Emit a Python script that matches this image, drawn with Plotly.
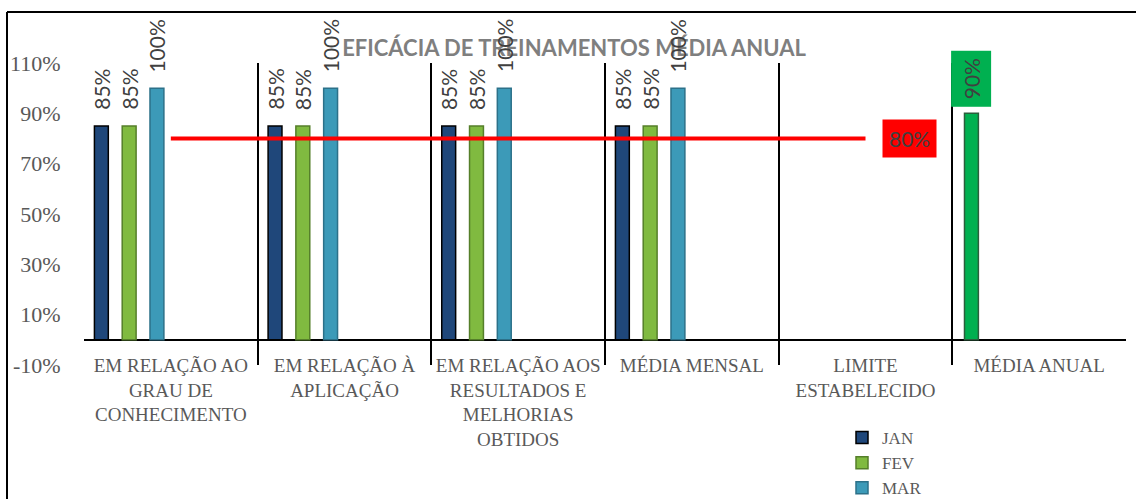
import plotly.graph_objects as go

# ---------------- data ----------------
categories = [
    "EM RELAÇÃO AO<br>GRAU DE<br>CONHECIMENTO",
    "EM RELAÇÃO À<br>APLICAÇÃO",
    "EM RELAÇÃO AOS<br>RESULTADOS E<br>MELHORIAS<br>OBTIDOS",
    "MÉDIA MENSAL",
    "LIMITE<br>ESTABELECIDO",
    "MÉDIA ANUAL",
]
series_names = ["JAN", "FEV", "MAR"]
jan = [85, 85, 85, 85]
fev = [85, 85, 85, 85]
mar = [100, 100, 100, 100]
limite = [80, 80, 80, 80, 80]
media_anual = [90]
media_anual_cat = [5]
y_tick_values = [-10, 10, 30, 50, 70, 90, 110]
y_tick_labels = ["-10%", "10%", "30%", "50%", "70%", "90%", "110%"]
title_text = "EFICÁCIA DE TREINAMENTOS MÉDIA ANUAL"

# ---------------- style ----------------
W, H = 1136, 499
ML, MR, MT, MB = 84, 10, 63, 60
plot_w = W - ML - MR
paper_h = H - MT - MB
plot_bottom_px = 365
label_axis_px = 352

bar_w = 0.08
slot_centers = [-0.40, -0.24, -0.08]
fills = ["#1F477A", "#80BA40", "#3C9AB8"]
lines = ["#000000", "#557F2A", "#2C7189"]
label_font = dict(family="Lato, Open Sans, sans-serif", size=21, color="#404040")
serif = "Liberation Serif, Cambria, serif"

fig = go.Figure()

values = [jan, fev, mar]
for name, vals, c, fc, lc in zip(series_names, values, slot_centers, fills, lines):
    xs = list(range(len(vals)))
    fig.add_trace(go.Bar(
        name=name, x=xs, y=vals, width=bar_w, offset=c - bar_w / 2,
        marker=dict(color=fc, line=dict(color=lc, width=1.5)),
        showlegend=True, hoverinfo="skip",
    ))
    for x, v in zip(xs, vals):
        fig.add_annotation(x=x + c, y=v, text=f"{v}%", textangle=-90,
                           showarrow=False, yanchor="bottom", xanchor="center",
                           yshift=14, font=label_font)

# annual average bar
fig.add_trace(go.Bar(
    name="MÉDIA ANUAL", x=media_anual_cat, y=media_anual, width=bar_w,
    offset=slot_centers[0] - bar_w / 2 + 0.01,
    marker=dict(color="#00B050", line=dict(color="#2A5E3C", width=1.5)),
    showlegend=False, hoverinfo="skip",
))
for x, v in zip(media_anual_cat, media_anual):
    fig.add_annotation(x=x + slot_centers[0] + 0.01, y=v, text=f"{v}%", textangle=-90,
                       showarrow=False, yanchor="bottom", xanchor="center",
                       yshift=6, bgcolor="#00B050", borderpad=7, font=label_font)

# limit line
lim_x = list(range(len(limite)))
fig.add_trace(go.Scatter(
    name="LIMITE", x=lim_x, y=limite, mode="lines",
    line=dict(color="#FF0000", width=4), showlegend=False, hoverinfo="skip",
))
fig.add_annotation(x=lim_x[-1], y=limite[-1], text=f"{limite[-1]}%", showarrow=False,
                   xanchor="left", yanchor="middle", xshift=16,
                   bgcolor="#FF0000", borderpad=6, font=label_font)

# outer frame (top and left edges only visible)
fx = (7 - ML) / plot_w
fy = (H - MB - 12) / paper_h
fig.add_shape(type="line", xref="paper", yref="paper", x0=fx, x1=1.2, y0=fy, y1=fy,
              line=dict(color="black", width=2))
fig.add_shape(type="line", xref="paper", yref="paper", x0=fx, x1=fx, y0=fy, y1=-1,
              line=dict(color="black", width=2))

n = len(categories)
fig.update_layout(
    width=W, height=H,
    margin=dict(l=ML, r=MR, t=MT, b=MB, autoexpand=False),
    paper_bgcolor="white", plot_bgcolor="white",
    barmode="overlay",
    title=dict(text=title_text, x=574 / W, xanchor="center", xref="container",
               y=1 - 48 / H, yanchor="middle", yref="container",
               font=dict(family="Lato, Open Sans, sans-serif", size=22,
                         color="#7F7F7F", weight=700)),
    xaxis=dict(
        range=[-0.5, n - 0.5], tickmode="array", tickvals=list(range(n)),
        ticktext=categories, showgrid=False, zeroline=False, showline=False,
        ticks="", anchor="free", automargin=False,
        position=(H - MB - label_axis_px) / paper_h,
        tickfont=dict(family=serif, size=19, color="#595959"),
        minor=dict(tickmode="array", tickvals=[i - 0.5 for i in range(n + 1)],
                   showgrid=True, gridcolor="black", gridwidth=1.5, ticks=""),
    ),
    yaxis=dict(
        range=[y_tick_values[0], y_tick_values[-1]], tickmode="array",
        tickvals=y_tick_values, ticktext=y_tick_labels, showgrid=False,
        zeroline=True, zerolinecolor="black", zerolinewidth=2, showline=False,
        ticks="outside", ticklen=18, tickcolor="rgba(0,0,0,0)", automargin=False,
        domain=[(H - MB - plot_bottom_px) / paper_h, 1],
        tickfont=dict(family=serif, size=22, color="#595959"),
    ),
    legend=dict(
        x=(842 - ML) / plot_w, xanchor="left",
        y=(H - MB - 420) / paper_h, yanchor="top",
        font=dict(family=serif, size=17, color="#595959"),
        bgcolor="rgba(0,0,0,0)", tracegroupgap=0,
    ),
    showlegend=True,
)

fig.write_html("out.html", config={"displayModeBar": False},
               post_script="document.body.style.margin='0';document.body.style.padding='0';")
